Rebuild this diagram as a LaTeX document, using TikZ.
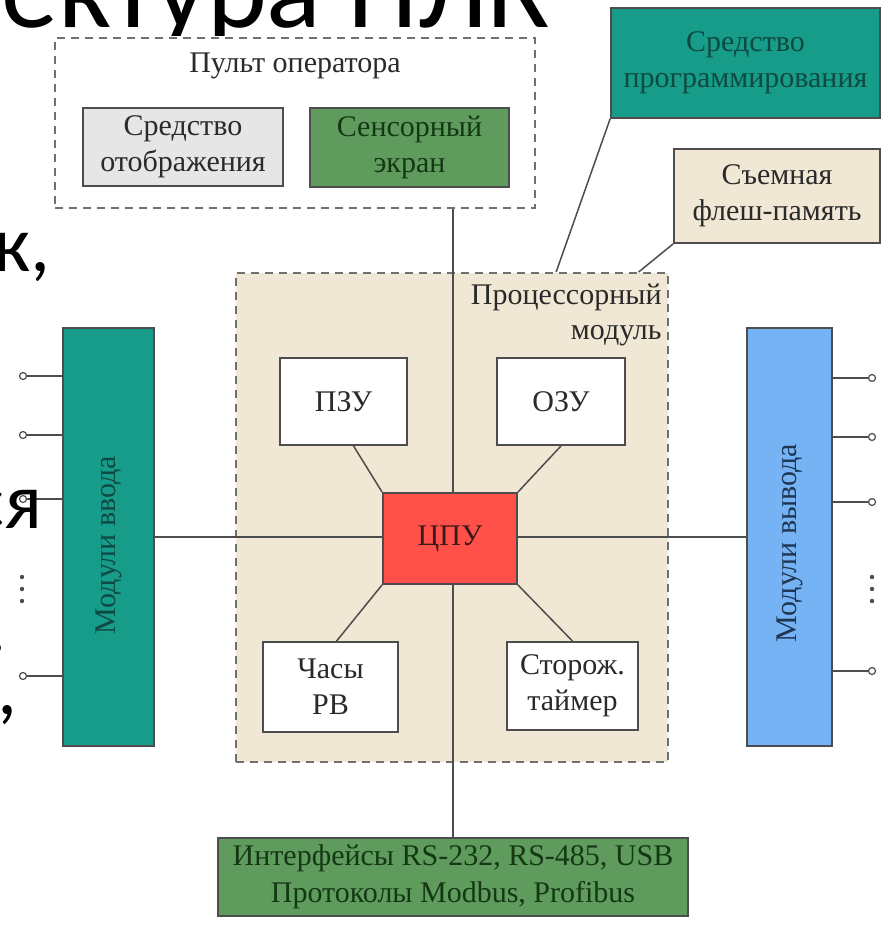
\documentclass[tikz,border=0pt]{standalone}
\usepackage{fontspec}
\setmainfont{Liberation Serif}
\newfontfamily\slidefont{Carlito}
\usepackage{tikz}
\usetikzlibrary{calc}
\definecolor{ink}{HTML}{2A2A2A}
\definecolor{edge}{HTML}{4D4D4D}
\definecolor{dashc}{HTML}{707070}
\definecolor{tealbox}{HTML}{169C88}
\definecolor{tealtext}{HTML}{0F4A42}
\definecolor{greenbox}{HTML}{5E9B5D}
\definecolor{greentext}{HTML}{143814}
\definecolor{bluebox}{HTML}{76B3F5}
\definecolor{bluetext}{HTML}{1E3652}
\definecolor{redbox}{HTML}{FF5049}
\definecolor{redtext}{HTML}{3A1A18}
\definecolor{beige}{HTML}{F1E7D5}
\definecolor{grayfill}{HTML}{E6E6E6}
\pgfdeclarelayer{back}
\pgfsetlayers{back,main}
\tikzset{blk/.style={draw=edge,line width=.9pt,inner sep=0pt,align=center,
    font=\fontsize{15}{18}\selectfont,text=ink},
  group/.style={draw=dashc,line width=.9pt,dash pattern=on 4pt off 3pt,inner sep=0pt},
  wire/.style={draw=edge,line width=.75pt},
  term/.style={circle,draw=edge,fill=white,line width=.6pt,minimum size=3.5pt,inner sep=0pt},
  slide/.style={font=\slidefont\fontsize{40}{44}\selectfont,text=black,inner sep=0pt}}
\begin{document}
\begin{tikzpicture}[x=.5pt,y=-.5pt]
\useasboundingbox (0,0) rectangle (886,926);
% processor module background
\begin{pgfonlayer}{back}
\node[group,fill=beige,minimum width=216pt,minimum height=244.5pt] (proc) at (452,517.5) {};
\end{pgfonlayer}
\node[anchor=north east,align=right,inner sep=0pt,text=ink,font=\fontsize{15}{17.5}\selectfont] (proclbl) at (662,284) {Процессорный\\модуль};
% operator panel
\node[group,minimum width=240pt,minimum height=85pt] (pult) at (295,123) {};
\node[anchor=base,inner sep=0pt,text=ink,font=\fontsize{15}{18}\selectfont] (pultlbl) at (295,72) {Пульт оператора};
\node[blk,fill=grayfill,minimum width=100pt,minimum height=39pt] (disp) at (183,147) {Средство\\отображения};
\node[blk,fill=greenbox,text=greentext,minimum width=99.5pt,minimum height=39.5pt] (touch) at (409.5,147.5) {Сенсорный\\экран};
% programming tool and flash
\node[blk,fill=tealbox,text=tealtext,minimum width=134.5pt,minimum height=55pt] (prog) at (745.5,63) {Средство\\программирования};
\node[blk,fill=beige,minimum width=103pt,minimum height=47pt] (flash) at (777,196) {Съемная\\флеш-память};
% inside the processor module
\node[blk,fill=white,minimum width=63.5pt,minimum height=43.5pt] (pzu) at (343.5,401.5) {ПЗУ};
\node[blk,fill=white,minimum width=64pt,minimum height=43.5pt] (ozu) at (561,401.5) {ОЗУ};
\node[blk,fill=redbox,text=redtext,minimum width=67pt,minimum height=45.5pt] (cpu) at (450,538.5) {ЦПУ};
\node[blk,fill=white,minimum width=67.5pt,minimum height=45pt] (rtc) at (330.5,687) {Часы\\РВ};
\node[blk,fill=white,minimum width=65.5pt,minimum height=44pt] (wdt) at (572.5,686) {Сторож.\\таймер};
% input / output modules
\node[blk,fill=tealbox,minimum width=45.5pt,minimum height=209pt] (in) at (108.5,537) {};
\node[rotate=90,text=tealtext,font=\fontsize{15}{18}\selectfont] (inlbl) at ([yshift=-4pt]in.center) {Модули ввода};
\node[blk,fill=bluebox,minimum width=42.5pt,minimum height=209pt] (out) at (789.5,537) {};
\node[rotate=90,text=bluetext,font=\fontsize{15}{18}\selectfont] (outlbl) at ([yshift=-3pt]out.center) {Модули вывода};
% interfaces
\node[blk,fill=greenbox,text=greentext,minimum width=235pt,minimum height=39pt,font=\fontsize{15}{18.5}\selectfont] (iface) at (453,877) {Интерфейсы RS-232, RS-485, USB\\Протоколы Modbus, Profibus};
% connections
\begin{pgfonlayer}{back}
\draw[wire] (pult.south -| iface.north) -- (iface.north);
\draw[wire] (in.east) -- (out.west);
\draw[wire] ([xshift=5pt]pzu.south) -- (cpu.north west);
\draw[wire] (ozu.south) -- (cpu.north east);
\draw[wire] ([xshift=3pt]rtc.north) -- (cpu.south west);
\draw[wire] (wdt.north) -- (cpu.south east);
\draw[wire] (prog.south west) -- ($(proc.north west)!.74!(proc.north east)$);
\draw[wire] (flash.south west) -- ($(proc.north west)!.93!(proc.north east)$);
\end{pgfonlayer}
% terminals
\foreach \y [count=\i] in {376,435,499,676} {
  \node[term] (ti\i) at (23,\y) {};
  \draw[wire] (ti\i) -- (ti\i -| in.west);
}
\foreach \y [count=\i] in {378,437,502,671} {
  \node[term] (to\i) at (872,\y) {};
  \draw[wire] (to\i) -- (to\i -| out.east);
}
\foreach \y in {577,589,601} {
  \fill[edge] (22,\y) circle (1.1pt);
  \fill[edge] (872,\y) circle (1.1pt);
}
% slide text behind the picture
\begin{scope}
\clip (0,0) rectangle (886,35);
\node[slide,font=\slidefont\fontsize{57}{60}\selectfont,anchor=base east,text depth=0pt] (title) at (550,27) {Архитектура ПЛК};
\end{scope}
\node[slide,anchor=base east] (frag1) at (51,271) {ик,};
\node[slide,anchor=base east] (frag2) at (43,528) {ся};
\node[slide,anchor=base east] (frag3) at (7,652) {.};
\node[slide,anchor=base east] (frag4) at (18,714) {,};
\end{tikzpicture}
\end{document}
